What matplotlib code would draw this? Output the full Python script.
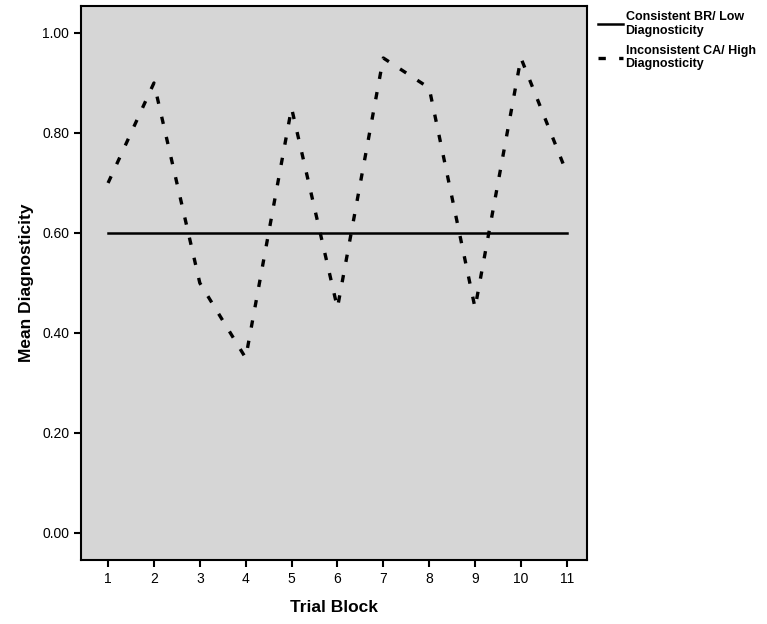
import matplotlib
matplotlib.use("Agg")
import matplotlib.pyplot as plt

plt.rcParams['font.family'] = ['Liberation Sans', 'DejaVu Sans']

# Datos
bloques = [1, 2, 3, 4, 5, 6, 7, 8, 9, 10, 11]
consistente = [0.60, 0.60, 0.60, 0.60, 0.60, 0.60, 0.60, 0.60, 0.60, 0.60, 0.60]
inconsistente = [0.70, 0.90, 0.50, 0.35, 0.85, 0.45, 0.95, 0.89, 0.45, 0.95, 0.72]
etiquetas_y = [0.00, 0.20, 0.40, 0.60, 0.80, 1.00]
nombres = ["Consistent BR/ Low\nDiagnosticity", "Inconsistent CA/ High\nDiagnosticity"]

fig = plt.figure(figsize=(7.67, 6.24), dpi=100)
ax = fig.add_axes([0.1056, 0.1026, 0.6597, 0.8878])
ax.set_facecolor('#d6d6d6')

l1, = ax.plot(bloques, consistente, color='black', linewidth=1.8)
l2, = ax.plot(bloques, inconsistente, color='black', linewidth=2.4,
              linestyle=(0, (2.2, 4.0)), solid_joinstyle='round')

ax.set_xlim(0.41, 11.44)
ax.set_ylim(-0.054, 1.054)
ax.set_xticks(bloques)
ax.set_yticks(etiquetas_y)
ax.set_yticklabels([f"{v:.2f}" for v in etiquetas_y])
ax.tick_params(axis='both', direction='out', length=5, width=1.5, labelsize=10)
for s in ax.spines.values():
    s.set_linewidth(1.5)

ax.set_xlabel("Trial Block", fontsize=12.5, fontweight='bold', labelpad=10)
ax.set_ylabel("Mean Diagnosticity", fontsize=12.5, fontweight='bold', labelpad=6)

fig.legend([l1, l2], nombres, loc='upper left', bbox_to_anchor=(0.765, 1.0),
           frameon=False, handlelength=2.0, handletextpad=0.2,
           prop={'size': 9, 'weight': 'bold'}, labelspacing=0.6)

fig.savefig("out.png", dpi=100)
